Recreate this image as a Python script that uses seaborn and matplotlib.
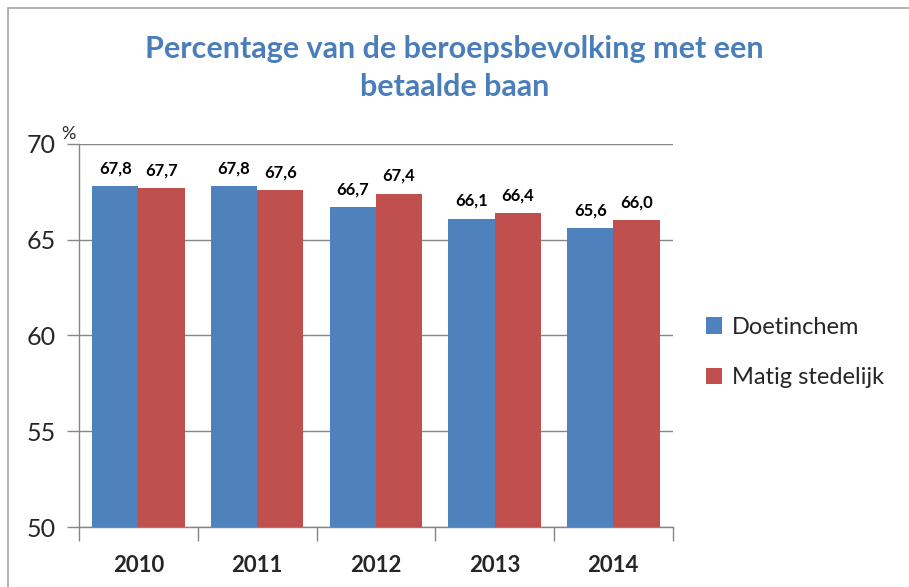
import pandas as pd
import numpy as np
import matplotlib.pyplot as plt
import seaborn as sns
from matplotlib.patches import Rectangle

years = ['2010', '2011', '2012', '2013', '2014']
doetinchem = [67.8, 67.8, 66.7, 66.1, 65.6]
matig = [67.7, 67.6, 67.4, 66.4, 66.0]
series = ['Doetinchem', 'Matig stedelijk']
colors = ['#4F81BD', '#C0504D']

df = pd.DataFrame({
    'jaar': years * 2,
    'waarde': doetinchem + matig,
    'groep': [series[0]] * len(years) + [series[1]] * len(years),
})

sns.set_theme(style='white')
plt.rcParams['font.family'] = ['Lato', 'DejaVu Sans']

fig = plt.figure(figsize=(9.09, 5.87), dpi=100)
ax = fig.add_axes([0.087, 0.102, 0.653, 0.653])

sns.barplot(data=df, x='jaar', y='waarde', hue='groep', palette=colors,
            width=0.78, saturation=1, linewidth=0, ax=ax, zorder=3)

ax.set_ylim(50, 70)
ax.set_yticks([50, 55, 60, 65, 70])
ax.set_xlim(-0.5, 4.5)
ax.yaxis.grid(True, color='#868686', linewidth=1, zorder=0)
ax.set_axisbelow(True)
ax.set_xlabel('')
ax.set_ylabel('')

# data labels
for i, cont in enumerate(ax.containers):
    vals = doetinchem if i == 0 else matig
    labels = [f'{v:.1f}'.replace('.', ',') for v in vals]
    ax.bar_label(cont, labels=labels, padding=7, fontsize=12, fontweight='bold',
                 color='black')

for s in ['top', 'right']:
    ax.spines[s].set_visible(False)
for s in ['left', 'bottom']:
    ax.spines[s].set_color('#868686')
    ax.spines[s].set_linewidth(1)

ax.tick_params(axis='y', length=9, width=1, color='#868686', labelsize=18, pad=8,
               left=True)
ax.set_xticks(np.arange(len(years)))
ax.set_xticklabels(years, fontsize=16, fontweight='bold')
ax.tick_params(axis='x', length=0, pad=20)
# category separator ticks
ax.set_xticks(np.arange(-0.5, len(years), 1), minor=True)
ax.tick_params(axis='x', which='minor', length=10, width=1, color='#868686', bottom=True)

ax.text(-0.03, 70.1, '%', transform=ax.get_yaxis_transform(), fontsize=13,
        ha='left', va='bottom')

ax.legend(handles=ax.get_legend_handles_labels()[0], labels=series,
          loc='center left', bbox_to_anchor=(1.02, 0.455), frameon=False,
          fontsize=17, handlelength=0.7, handleheight=0.7, handletextpad=0.4,
          labelspacing=1.25)

fig.text(0.5, 0.884, 'Percentage van de beroepsbevolking met een\nbetaalde baan',
         ha='center', va='center', fontsize=22, fontweight='bold',
         color='#4A7EBB', linespacing=1.45)

fig.patches.append(Rectangle((8 / 909, -0.05), 1.1, 1.05 - 8 / 587,
                             transform=fig.transFigure, fill=False,
                             edgecolor='#A6A6A6', linewidth=1.2))

fig.savefig('out.png', dpi=100)
